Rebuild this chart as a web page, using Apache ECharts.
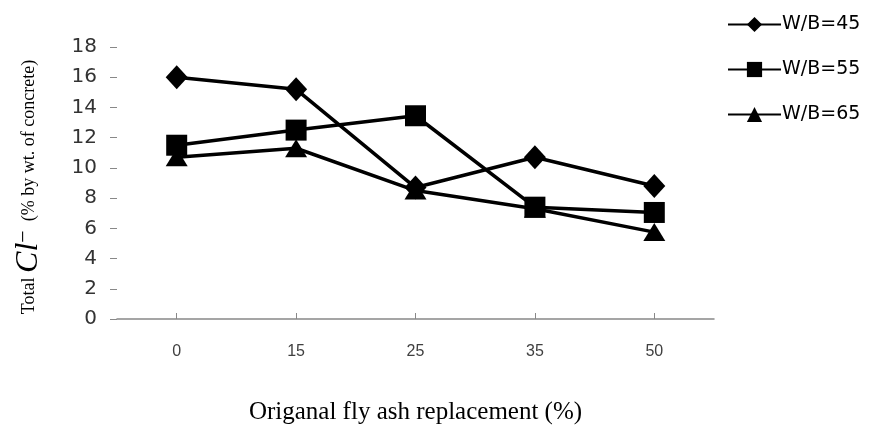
<!DOCTYPE html>
<html>
<head>
<meta charset="utf-8">
<script src="https://cdn.jsdelivr.net/npm/echarts@6/dist/echarts.min.js"></script>
<style>
  html, body { margin: 0; padding: 0; background: #fff; }
  #chart { width: 870px; height: 425px; }
</style>
</head>
<body>
<div id="chart"></div>
<script>
// Fly ash replacement levels (%)
const categories = ['0', '15', '25', '35', '50'];
// Total chloride content for each water/binder ratio
const wb45 = [16.0, 15.2, 8.7, 10.7, 8.8];
const wb55 = [11.5, 12.5, 13.45, 7.4, 7.05];
const wb65 = [10.7, 11.3, 8.5, 7.3, 5.75];
const seriesNames = ['W/B=45', 'W/B=55', 'W/B=65'];
const yTicks = [0, 2, 4, 6, 8, 10, 12, 14, 16, 18];

const chart = echarts.init(document.getElementById('chart'), null, { renderer: 'canvas' });

function lineSeries(name, data, symbol, size) {
  return {
    name: name,
    type: 'line',
    data: data,
    symbol: symbol,
    symbolSize: size,
    showAllSymbol: true,
    lineStyle: { color: '#000', width: 3.5 },
    itemStyle: { color: '#000' },
    emphasis: { disabled: true },
    animation: false
  };
}

chart.setOption({
  animation: false,
  grid: { left: 117, right: 156, top: 47, bottom: 106, containLabel: false, outerBoundsMode: 'none' },
  legend: {
    orient: 'vertical',
    left: 722,
    top: 10,
    itemWidth: 53,
    itemHeight: 19,
    itemGap: 26,
    data: seriesNames,
    textStyle: { fontFamily: 'DejaVu Sans', fontSize: 19, lineHeight: 19, color: '#000', padding: [0, 0, 0, -4] }
  },
  xAxis: {
    type: 'category',
    data: categories,
    boundaryGap: true,
    name: 'Origanal fly ash replacement (%)',
    nameLocation: 'middle',
    nameGap: 81,
    nameTextStyle: { fontFamily: 'Liberation Serif', fontSize: 25, color: '#000' },
    axisLine: { lineStyle: { color: '#888', width: 1.5 } },
    axisTick: { show: true, inside: true, length: 6, alignWithLabel: true, lineStyle: { color: '#888' } },
    axisLabel: { margin: 25, fontFamily: 'Liberation Sans', fontSize: 16, color: '#404040' },
    splitLine: { show: false }
  },
  yAxis: {
    type: 'value',
    min: yTicks[0],
    max: yTicks[yTicks.length - 1],
    interval: 2,
    name: '{a|Total }{b|Cl}{c|−}{a|  (% by wt. of concrete)}',
    nameLocation: 'middle',
    nameRotate: 90,
    nameGap: 72,
    nameTextStyle: {
      color: '#000',
      padding: [0, 8, 0, 0],
      rich: {
        a: { fontFamily: 'Liberation Serif', fontSize: 18, color: '#000' },
        b: { fontFamily: 'Liberation Serif', fontSize: 32, fontStyle: 'italic', color: '#000' },
        c: { fontFamily: 'Liberation Serif', fontSize: 22, color: '#000', verticalAlign: 'top', padding: [0, 0, 8, 0] }
      }
    },
    axisLine: { show: false },
    axisTick: { show: true, length: 7, lineStyle: { color: '#888' } },
    axisLabel: { margin: 20, fontFamily: 'DejaVu Sans', fontSize: 20, color: '#333' },
    splitLine: { show: false }
  },
  series: [
    lineSeries(seriesNames[0], wb45, 'diamond', [22, 24]),
    lineSeries(seriesNames[1], wb55, 'rect', [21, 21]),
    lineSeries(seriesNames[2], wb65, 'triangle', [22, 18])
  ]
});
</script>
</body>
</html>
